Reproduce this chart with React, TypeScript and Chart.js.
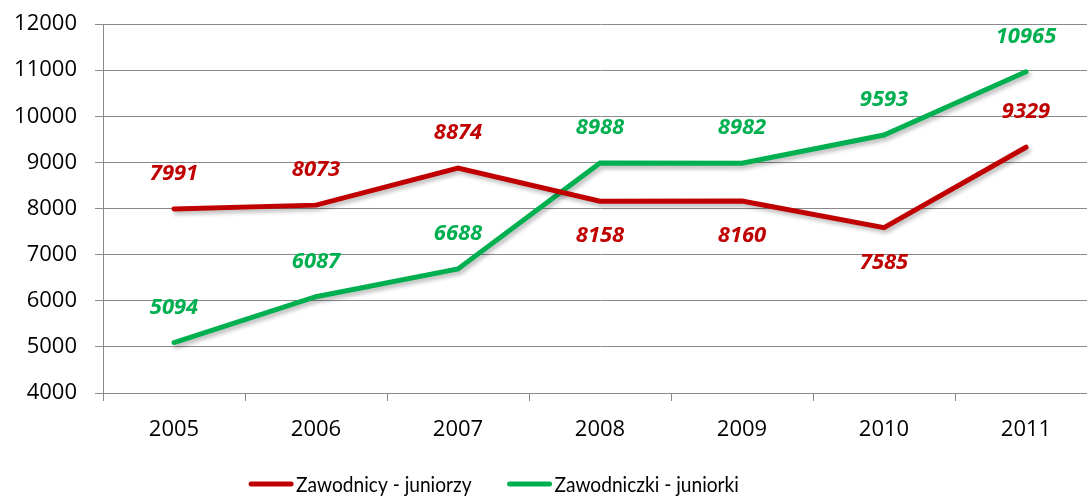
import React, { useEffect, useRef } from "react";
import { Chart, registerables } from "chart.js";

Chart.register(...registerables);

const years = ["2005", "2006", "2007", "2008", "2009", "2010", "2011"];
const juniorzy = [7991, 8073, 8874, 8158, 8160, 7585, 9329];
const juniorki = [5094, 6087, 6688, 8988, 8982, 9593, 10965];
const juniorzyLabelPos = ["above", "above", "above", "below", "below", "below", "above"];
const juniorkiLabelPos = ["above", "above", "above", "above", "above", "above", "above"];
const seriesNames = ["Zawodnicy - juniorzy", "Zawodniczki - juniorki"];
const yMin = 4000;
const yMax = 12000;
const yStep = 1000;

const RED = "#C00000";
const GREEN = "#00B050";
const GRID = "#898989";
const FONT = '"Open Sans", "DejaVu Sans", sans-serif';
const LEGEND_FONT = 'Lato, "Open Sans", sans-serif';
const LEGEND_SCALE_X = 0.87;

const shadowPlugin = {
  id: "lineShadow",
  beforeDatasetDraw(chart: any) {
    const ctx = chart.ctx;
    ctx.save();
    ctx.shadowColor = "rgba(0,0,0,0.28)";
    ctx.shadowBlur = 4;
    ctx.shadowOffsetX = 2;
    ctx.shadowOffsetY = 3;
  },
  afterDatasetDraw(chart: any) {
    chart.ctx.restore();
  },
};

const labelPlugin = {
  id: "valueLabels",
  afterDatasetsDraw(chart: any) {
    const ctx = chart.ctx;
    ctx.save();
    ctx.font = `italic bold 22px ${FONT}`;
    ctx.textAlign = "center";
    ctx.textBaseline = "middle";
    chart.data.datasets.forEach((ds: any, i: number) => {
      const meta = chart.getDatasetMeta(i);
      ctx.fillStyle = ds.borderColor;
      meta.data.forEach((pt: any, j: number) => {
        const pos = ds.labelPos[j];
        const y = pt.y + (pos === "above" ? -35 : 35);
        ctx.fillText(String(ds.data[j]), pt.x, y);
      });
    });
    ctx.restore();
  },
};

const legendPlugin = {
  id: "customLegend",
  afterDraw(chart: any) {
    const ctx = chart.ctx;
    ctx.save();
    ctx.font = `22px ${LEGEND_FONT}`;
    const lineW = 44;
    const gap = 3;
    const spacing = 36;
    const items = chart.data.datasets.map((ds: any) => ({
      text: ds.label,
      color: ds.borderColor,
      w: ctx.measureText(ds.label).width * LEGEND_SCALE_X,
    }));
    const total =
      items.reduce((s: number, it: any) => s + lineW + gap + it.w, 0) +
      spacing * (items.length - 1);
    let x = 494 - total / 2;
    const yLine = 484;
    items.forEach((it: any) => {
      ctx.strokeStyle = it.color;
      ctx.lineWidth = 5;
      ctx.lineCap = "round";
      ctx.beginPath();
      ctx.moveTo(x + 2, yLine);
      ctx.lineTo(x + lineW - 2, yLine);
      ctx.stroke();
      ctx.fillStyle = "#000";
      ctx.textAlign = "left";
      ctx.textBaseline = "alphabetic";
      ctx.save();
      ctx.translate(x + lineW + gap, yLine + 8);
      ctx.scale(LEGEND_SCALE_X, 1);
      ctx.fillText(it.text, 0, 0);
      ctx.restore();
      x += lineW + gap + it.w + spacing;
    });
    ctx.restore();
  },
};

function App() {
  const ref = useRef<HTMLCanvasElement | null>(null);

  useEffect(() => {
    if (!ref.current) return;
    const chart = new Chart(ref.current, {
      type: "line",
      data: {
        labels: years,
        datasets: [
          {
            label: seriesNames[0],
            data: juniorzy,
            borderColor: RED,
            backgroundColor: RED,
            borderWidth: 5,
            pointRadius: 0,
            tension: 0,
            borderCapStyle: "round",
            labelPos: juniorzyLabelPos,
          } as any,
          {
            label: seriesNames[1],
            data: juniorki,
            borderColor: GREEN,
            backgroundColor: GREEN,
            borderWidth: 5,
            pointRadius: 0,
            tension: 0,
            borderCapStyle: "round",
            labelPos: juniorkiLabelPos,
          } as any,
        ],
      },
      options: {
        responsive: false,
        animation: false,
        devicePixelRatio: 1,
        layout: { padding: { left: 0, right: 3, top: 24, bottom: 0 } },
        plugins: {
          legend: { display: false },
          tooltip: { enabled: false },
        },
        scales: {
          x: {
            offset: true,
            grid: {
              display: true,
              offset: true,
              drawOnChartArea: false,
              drawTicks: true,
              tickLength: 8,
              color: GRID,
            },
            border: { color: GRID },
            ticks: {
              color: "#000",
              font: { family: FONT, size: 22 },
              padding: 16,
              maxRotation: 0,
            },
            afterFit(scale: any) {
              scale.height = 104;
              scale.paddingLeft = 0;
              scale.paddingRight = 0;
            },
          },
          y: {
            min: yMin,
            max: yMax,
            grid: { color: GRID, tickLength: 8, drawTicks: true },
            border: { color: GRID },
            ticks: {
              stepSize: yStep,
              color: "#000",
              font: { family: FONT, size: 22 },
              padding: 18,
              callback: (v: any) => String(v),
            },
            afterFit(scale: any) {
              scale.width = 103;
              scale.paddingTop = 0;
              scale.paddingBottom = 0;
            },
          },
        },
      } as any,
      plugins: [shadowPlugin, labelPlugin, legendPlugin],
    });
    return () => chart.destroy();
  }, []);

  return (
    <div
      style={{
        position: "fixed",
        left: 0,
        top: 0,
        width: 1087,
        height: 497,
        overflow: "hidden",
        background: "#fff",
      }}
    >
      <canvas ref={ref} width={1100} height={497} style={{ display: "block" }} />
    </div>
  );
}

export default App;
